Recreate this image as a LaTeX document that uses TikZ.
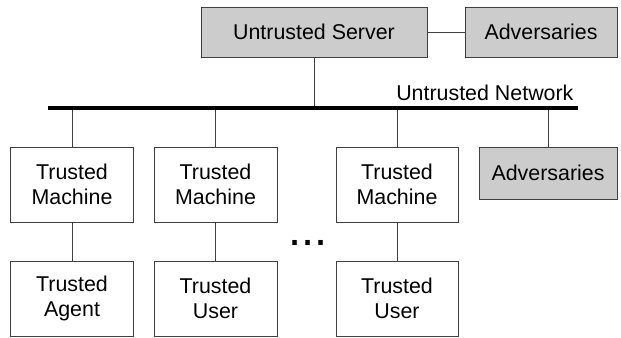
\documentclass[tikz,border=0pt]{standalone}
\usepackage{fontspec}
\setmainfont{Liberation Sans}
\begin{document}
\begin{tikzpicture}[x=1bp,y=-1bp,
  every node/.style={font=\fontsize{21.4bp}{25bp}\selectfont},
  box/.style={draw=black!75, line width=1bp, rectangle, align=center,
    inner sep=0pt, outer sep=0pt, minimum height=75bp},
  shaded/.style={box, fill=black!20, minimum height=50bp},
  wire/.style={draw=black!75, line width=1bp}]
\useasboundingbox (0,0) rectangle (621,337);

% top row: server and attached adversaries
\node[shaded, minimum width=226bp] (server) at (314,32) {Untrusted Server};
\node[shaded, minimum width=152bp] (advtop) at (541,32) {Adversaries};

% network bus
\node[fill=black, inner sep=0pt, outer sep=0pt, minimum width=530bp,
  minimum height=3.6bp] (net) at (313,108) {};
\node[anchor=base east] (netlabel) at (577,100) {Untrusted Network};

% machines
\node[box, minimum width=122bp] (m1) at (72,184.5) {Trusted\\Machine};
\node[box, minimum width=123bp] (m2) at (215.5,184.5) {Trusted\\Machine};
\node[box, minimum width=122bp] (m3) at (397,184.5) {Trusted\\Machine};
\node[shaded, minimum width=138bp, minimum height=52bp] (advmid) at (548,173) {Adversaries};

% agents and users
\node[box, minimum width=122bp] (b1) at (72,298.5) {Trusted\\Agent};
\node[box, minimum width=123bp] (b2) at (215.5,298.5) {Trusted\\User};
\node[box, minimum width=122bp] (b3) at (397,298.5) {Trusted\\User};

% ellipsis
\node[anchor=base, font=\fontsize{47bp}{50bp}\selectfont, inner sep=0pt] (dots) at (308,245.5) {...};

% connectors
\draw[wire] (server.east) -- (advtop.west);
\draw[wire] (server.south) -- (server.south |- net.north);
\foreach \n in {m1,m2,m3,advmid}
  \draw[wire] (\n.north) -- (\n.north |- net.south);
\draw[wire] (m1.south) -- (b1.north);
\draw[wire] (m2.south) -- (b2.north);
\draw[wire] (m3.south) -- (b3.north);
\end{tikzpicture}
\end{document}
